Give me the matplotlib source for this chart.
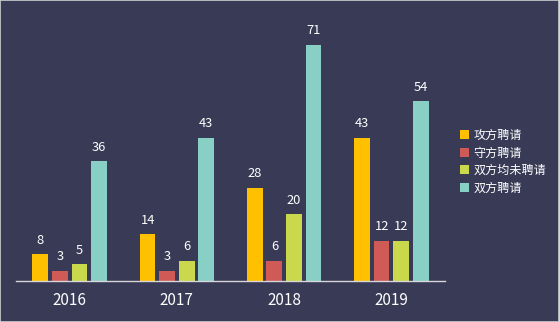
import matplotlib
matplotlib.use("Agg")
import matplotlib.pyplot as plt
import numpy as np
from matplotlib.patches import Rectangle

plt.rcParams['font.family'] = ['Noto Sans CJK SC', 'DejaVu Sans']

years = ['2016', '2017', '2018', '2019']
series = ['攻方聘请', '守方聘请', '双方均未聘请', '双方聘请']
v_attack = [8, 14, 28, 43]
v_defend = [3, 3, 6, 12]
v_neither = [5, 6, 20, 12]
v_both = [36, 43, 71, 54]
values = [v_attack, v_defend, v_neither, v_both]
colors = ['#FFC000', '#D05A55', '#C9D94B', '#88CFC5']

bg = '#383a56'
fig = plt.figure(figsize=(5.59, 3.22), dpi=100, facecolor=bg)
ax = fig.add_axes([16/559, 41.5/322, 429/559, 270/322])
ax.set_facecolor(bg)

x = np.arange(len(years))
step = 0.182
width = 0.147
for i, (name, vals, c) in enumerate(zip(series, values, colors)):
    pos = x + (i - 1.5) * step
    ax.bar(pos, vals, width=width, color=c, label=name)
    for p, v in zip(pos, vals):
        ax.text(p, v + 2.2, str(v), ha='center', va='bottom', color='white', fontsize=9.3)

ax.set_xlim(-0.5, 3.5)
ax.set_ylim(0, 270/3.32)
ax.set_xticks(x)
ax.set_xticklabels(years, color='white', fontsize=11)
ax.tick_params(axis='x', length=0, pad=8)
ax.set_yticks([])
for s in ['top', 'right', 'left']:
    ax.spines[s].set_visible(False)
ax.spines['bottom'].set_color('#d8d8d8')
ax.spines['bottom'].set_linewidth(1.0)

leg = fig.legend(loc='upper left', bbox_to_anchor=(449/559, 1 - 118/322), frameon=False,
                 fontsize=8.7, labelcolor='white', handlelength=0.75, handleheight=0.75,
                 handletextpad=0.4, labelspacing=0.38)

fig.patches.append(Rectangle((0, 0), 1, 1, transform=fig.transFigure, fill=False,
                             edgecolor='#cfcfcf', linewidth=1.2))
fig.savefig('out.png', dpi=100, facecolor=bg)
